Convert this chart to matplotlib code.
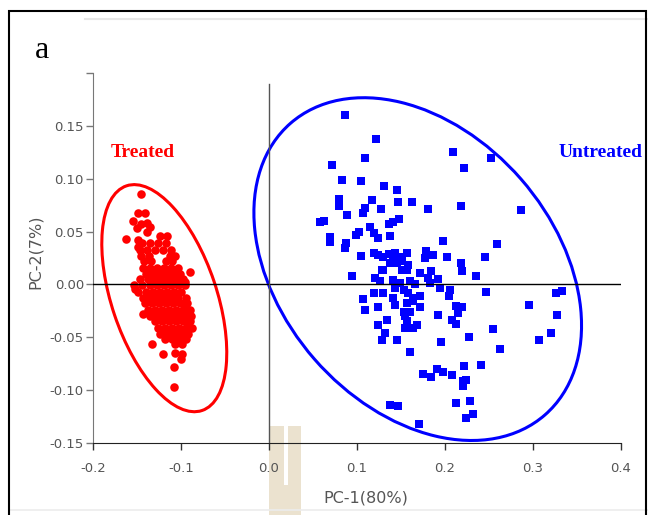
import matplotlib
matplotlib.use("Agg")
import matplotlib.pyplot as plt
from matplotlib.patches import Ellipse, Rectangle
from matplotlib.lines import Line2D
from matplotlib.transforms import ScaledTranslation

# Treated samples (PC-1, PC-2)
treated_x = [
    # outer points
    -0.146, -0.149, -0.141, -0.155, -0.150, -0.145, -0.139, -0.135, -0.139, -0.163,
    -0.149, -0.149, -0.124, -0.116, -0.090, -0.096, -0.152, -0.143, -0.133, -0.121,
    -0.107, -0.099, -0.100, -0.108, -0.108, -0.096, -0.092, -0.094, -0.107, -0.099,
    # core
    -0.144, -0.135, -0.126, -0.117,
    -0.147, -0.139, -0.130, -0.121, -0.111,
    -0.146, -0.136, -0.113, -0.107,
    -0.142, -0.134, -0.117, -0.110,
    -0.143, -0.135, -0.127, -0.119, -0.111, -0.103,
    -0.140, -0.132, -0.124, -0.116, -0.108, -0.101,
    -0.147, -0.138, -0.130, -0.122, -0.114, -0.106, -0.098,
    -0.153, -0.144, -0.135, -0.127, -0.119, -0.111, -0.103, -0.096,
    -0.149, -0.140, -0.132, -0.124, -0.116, -0.108, -0.100,
    -0.143, -0.135, -0.127, -0.119, -0.111, -0.103, -0.094,
    -0.141, -0.133, -0.125, -0.117, -0.109, -0.101, -0.093,
    -0.138, -0.130, -0.122, -0.114, -0.106, -0.098, -0.090,
    -0.135, -0.127, -0.119, -0.111, -0.103, -0.096, -0.089,
    -0.130, -0.122, -0.114, -0.106, -0.098, -0.090,
    -0.126, -0.118, -0.110, -0.102, -0.094, -0.088,
    -0.124, -0.116, -0.108, -0.100, -0.092,
    -0.118, -0.110, -0.102, -0.094,
]
treated_y = [
    0.086, 0.068, 0.068, 0.060, 0.053, 0.057, 0.058, 0.054, 0.050, 0.043,
    0.042, 0.035, 0.046, 0.046, 0.012, 0.002, -0.004, -0.028, -0.056, -0.066,
    -0.065, -0.066, -0.071, -0.078, -0.097, -0.022, -0.040, -0.046, -0.056, -0.056,
    0.039, 0.039, 0.039, 0.039,
    0.033, 0.033, 0.033, 0.033, 0.033,
    0.027, 0.027, 0.027, 0.027,
    0.022, 0.022, 0.022, 0.022,
    0.016, 0.016, 0.016, 0.016, 0.016, 0.016,
    0.010, 0.010, 0.010, 0.010, 0.010, 0.010,
    0.005, 0.005, 0.005, 0.005, 0.005, 0.005, 0.005,
    -0.001, -0.001, -0.001, -0.001, -0.001, -0.001, -0.001, -0.001,
    -0.007, -0.007, -0.007, -0.007, -0.007, -0.007, -0.007,
    -0.013, -0.013, -0.013, -0.013, -0.013, -0.013, -0.013,
    -0.018, -0.018, -0.018, -0.018, -0.018, -0.018, -0.018,
    -0.024, -0.024, -0.024, -0.024, -0.024, -0.024, -0.024,
    -0.030, -0.030, -0.030, -0.030, -0.030, -0.030, -0.030,
    -0.035, -0.035, -0.035, -0.035, -0.035, -0.035,
    -0.041, -0.041, -0.041, -0.041, -0.041, -0.041,
    -0.047, -0.047, -0.047, -0.047, -0.047,
    -0.052, -0.052, -0.052, -0.052,
]

# Untreated samples (PC-1, PC-2)
untreated_x = [
    0.086, 0.122, 0.209, 0.252, 0.222, 0.109, 0.072, 0.083, 0.104, 0.131,
    0.145, 0.079, 0.079, 0.117, 0.147, 0.163, 0.218, 0.109, 0.107, 0.127,
    0.181, 0.286, 0.089, 0.058, 0.062, 0.148, 0.141, 0.136, 0.115, 0.119,
    0.124, 0.102, 0.099, 0.069, 0.069, 0.137, 0.088, 0.086, 0.198, 0.259,
    0.105, 0.119, 0.124, 0.130, 0.136, 0.143, 0.149, 0.157, 0.141, 0.138,
    0.151, 0.145, 0.178, 0.186, 0.177, 0.202, 0.246, 0.218, 0.219, 0.235,
    0.094, 0.128, 0.121, 0.126, 0.151, 0.158, 0.157, 0.172, 0.184, 0.181,
    0.192, 0.141, 0.149, 0.160, 0.166, 0.130, 0.119, 0.107, 0.109, 0.130,
    0.141, 0.143, 0.124, 0.143, 0.158, 0.164, 0.172, 0.153, 0.157, 0.172,
    0.164, 0.153, 0.155, 0.160, 0.183, 0.194, 0.206, 0.204, 0.213, 0.219,
    0.215, 0.192, 0.208, 0.213, 0.247, 0.134, 0.124, 0.132, 0.128, 0.157,
    0.164, 0.155, 0.168, 0.145, 0.160, 0.196, 0.227, 0.255, 0.263, 0.295,
    0.326, 0.333, 0.327, 0.320, 0.307, 0.241, 0.222, 0.175, 0.184, 0.191,
    0.198, 0.208, 0.220, 0.224, 0.220, 0.138, 0.147, 0.213, 0.228, 0.224,
    0.232, 0.171,
]
untreated_y = [
    0.160, 0.138, 0.125, 0.120, 0.110, 0.120, 0.113, 0.099, 0.098, 0.093,
    0.089, 0.081, 0.074, 0.080, 0.078, 0.078, 0.074, 0.072, 0.068, 0.071,
    0.071, 0.070, 0.066, 0.059, 0.060, 0.062, 0.059, 0.057, 0.054, 0.049,
    0.044, 0.050, 0.047, 0.045, 0.040, 0.046, 0.039, 0.034, 0.041, 0.038,
    0.027, 0.030, 0.028, 0.026, 0.029, 0.030, 0.026, 0.030, 0.023, 0.020,
    0.022, 0.020, 0.032, 0.028, 0.025, 0.026, 0.026, 0.020, 0.013, 0.008,
    0.008, 0.014, 0.006, 0.003, 0.014, 0.018, 0.014, 0.011, 0.013, 0.006,
    0.005, 0.004, 0.001, 0.003, -0.000, 0.014, -0.008, -0.014, -0.024, -0.008,
    -0.013, -0.019, -0.021, -0.003, -0.008, -0.013, -0.011, -0.005, -0.018, -0.021,
    -0.016, -0.026, -0.030, -0.026, 0.001, -0.003, -0.005, -0.011, -0.020, -0.021,
    -0.027, -0.029, -0.034, -0.037, -0.007, -0.034, -0.038, -0.046, -0.053, -0.035,
    -0.041, -0.041, -0.038, -0.053, -0.064, -0.054, -0.050, -0.042, -0.061, -0.019,
    -0.008, -0.006, -0.029, -0.046, -0.053, -0.076, -0.077, -0.085, -0.088, -0.080,
    -0.083, -0.086, -0.091, -0.090, -0.096, -0.114, -0.115, -0.112, -0.110, -0.126,
    -0.123, -0.132,
]

# confidence ellipses: centre (data), axis lengths (inches), angle (deg)
red_ell = dict(center=(-0.119, -0.013), size=(2.37, 1.05), angle=-71.4)
blue_ell = dict(center=(0.169, 0.0145), size=(3.87, 2.74), angle=-48.9)

xticks = [-0.2, -0.1, 0.0, 0.1, 0.2, 0.3, 0.4]
xticklabels = ["-0.2", "-0.1", "0.0", "0.1", "0.2", "0.3", "0.4"]
yticks = [-0.15, -0.10, -0.05, 0.00, 0.05, 0.10, 0.15, 0.20]
yticklabels = ["-0.15", "-0.10", "-0.05", "0.00", "0.05", "0.10", "0.15", ""]

W, H = 648, 515
fig = plt.figure(figsize=(W / 100, H / 100), dpi=100)

# page decorations: frame, grey rules, faint watermark
fig.patches.append(Rectangle((9 / W, -0.05), 637 / W, 1.05 - 11 / H, transform=fig.transFigure,
                             fill=False, edgecolor="black", linewidth=1.5, zorder=5))
fig.lines.append(Line2D([85 / W, 1], [1 - 19 / H] * 2, transform=fig.transFigure,
                        color="#e6e6e6", linewidth=1.5))
fig.lines.append(Line2D([10 / W, 1], [1 - 510 / H] * 2, transform=fig.transFigure,
                        color="#ececec", linewidth=1.2))
for x0, x1 in [(269, 284), (288, 301), (284, 288)]:
    y0 = 426 if x0 != 284 else 485
    fig.patches.append(Rectangle((x0 / W, 0), (x1 - x0) / W, (H - y0) / H,
                                 transform=fig.transFigure, facecolor="#ebe2cf",
                                 edgecolor="none", zorder=-1))

ax = fig.add_axes([93 / W, 72 / H, 528 / W, 370 / H])
ax.set_facecolor("none")

ax.scatter(treated_x, treated_y, s=38, marker="o", color="#ff0000", linewidths=0, zorder=3)
ax.scatter(untreated_x, untreated_y, s=30, marker="s", color="#0000ff", linewidths=0, zorder=3)

for ell, col in [(red_ell, "#ff0000"), (blue_ell, "#0000ff")]:
    tr = fig.dpi_scale_trans + ScaledTranslation(*ell["center"], ax.transData)
    ax.add_patch(Ellipse((0, 0), ell["size"][0], ell["size"][1], angle=ell["angle"],
                         transform=tr, fill=False, edgecolor=col, linewidth=2.2, zorder=2))

ax.axhline(0, color="black", linewidth=1.0, zorder=4)
ax.axvline(0, ymin=0, ymax=(0.19 + 0.15) / 0.35, color="#555555", linewidth=1.0, zorder=4)

ax.set_xlim(-0.2, 0.4)
ax.set_ylim(-0.15, 0.20)
ax.set_xticks(xticks)
ax.set_xticklabels(xticklabels)
ax.set_yticks(yticks)
ax.set_yticklabels(yticklabels)
for s in ["top", "right"]:
    ax.spines[s].set_visible(False)
ax.spines["left"].set_color("#777777")
ax.spines["bottom"].set_color("#222222")
ax.tick_params(axis="x", length=5, width=1, color="#333333", pad=9,
               labelsize=9.5, labelcolor="#555555")
ax.tick_params(axis="y", length=5, width=1, color="#777777", pad=1.5,
               labelsize=9.5, labelcolor="#555555")

ax.text(-0.143, 0.125, "Treated", color="#ff0000", fontsize=14, fontweight="bold",
        family="Liberation Serif", ha="center", va="center", clip_on=False)
ax.text(0.377, 0.125, "Untreated", color="#0000ff", fontsize=14, fontweight="bold",
        family="Liberation Serif", ha="center", va="center", clip_on=False)

fig.text(35 / W, 1 - 252 / H, "PC-2(7%)", rotation=90, ha="center", va="center",
         fontsize=11.5, color="#555555")
fig.text(366 / W, 1 - 498 / H, "PC-1(80%)", ha="center", va="center",
         fontsize=11.5, color="#555555")
fig.text(42 / W, 1 - 51 / H, "a", ha="center", va="center", fontsize=23,
         family="Liberation Serif", color="black")

fig.savefig("out.png", dpi=100)
